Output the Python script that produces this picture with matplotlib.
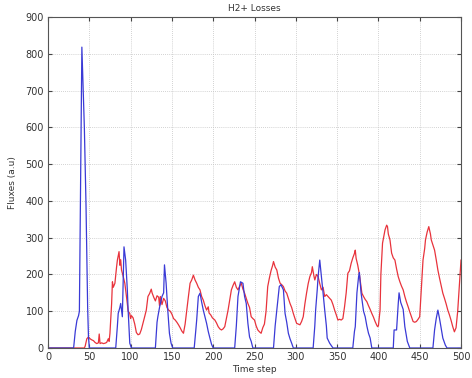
import matplotlib
matplotlib.use("Agg")
import matplotlib.pyplot as plt

# Red series (time step, flux)
red_t = [0, 44, 45, 47, 49, 51, 53, 55, 57, 59, 61, 62, 63, 65, 67, 69, 71, 73, 74, 75, 77, 78, 79,
         81, 83, 84, 86, 87, 88, 89, 91, 93, 95, 96, 97, 99, 100, 101, 103, 105, 107, 109, 111, 113,
         115, 117, 119, 121, 123, 125, 126, 128, 130, 132, 134, 135, 136, 138, 140, 142, 144, 146,
         148, 150, 152, 154, 156, 158, 160, 162, 164, 166, 168, 170, 172, 174, 176, 178, 180, 182,
         184, 186, 188, 190, 192, 194, 195, 197, 199, 202, 204, 206, 208, 210, 212, 214, 216, 218,
         220, 222, 224, 226, 228, 230, 232, 234, 236, 238, 240, 242, 244, 246, 248, 250, 252, 254,
         256, 258, 260, 262, 264, 266, 268, 270, 272, 273, 275, 277, 279, 281, 283, 285, 287, 289,
         291, 293, 295, 297, 299, 301, 303, 305, 307, 309, 311, 313, 315, 317, 319, 320, 322, 323,
         325, 327, 329, 331, 333, 335, 337, 339, 341, 343, 345, 347, 349, 351, 353, 355, 357, 359,
         361, 363, 365, 367, 369, 371, 372, 373, 375, 377, 379, 380, 382, 384, 386, 388, 390, 392,
         394, 396, 398, 399, 400, 402, 403, 405, 407, 408, 410, 411, 412, 414, 416, 418, 420, 422,
         424, 426, 428, 430, 432, 434, 436, 438, 440, 442, 444, 446, 448, 450, 452, 454, 456, 457,
         459, 461, 463, 464, 466, 468, 470, 472, 474, 476, 478, 480, 482, 484, 486, 488, 490, 492,
         494, 496, 498, 500]
red_v = [0, 0, 5, 25, 30, 25, 22, 20, 15, 12, 14, 38, 12, 14, 12, 13, 15, 25, 18, 40, 120, 180, 165,
         176, 220, 239, 262, 225, 240, 212, 195, 176, 140, 121, 100, 94, 80, 88, 82, 65, 42, 36, 38, 50,
         67, 85, 103, 140, 148, 160, 150, 138, 128, 142, 138, 115, 140, 118, 135, 128, 110, 103,
         100, 92, 80, 76, 70, 63, 55, 46, 40, 65, 103, 140, 176, 185, 198, 185, 176, 165,
         158, 140, 130, 115, 103, 112, 95, 90, 82, 76, 68, 58, 52, 49, 52, 58, 80, 103,
         130, 158, 170, 180, 165, 158, 168, 176, 160, 149, 135, 121, 110, 85, 80, 76, 60, 49,
         44, 40, 55, 65, 100, 167, 190, 210, 225, 235, 220, 212, 190, 176, 172, 167, 155, 149,
         135, 121, 110, 94, 80, 67, 65, 63, 72, 85, 120, 149, 175, 194, 205, 221, 195, 185,
         200, 194, 175, 158, 165, 140, 145, 140, 135, 130, 118, 103, 90, 76, 78, 76, 80, 112,
         150, 203, 210, 230, 245, 257, 266, 244, 225, 200, 165, 149, 140, 132, 126, 115, 105, 94,
         84, 72, 62, 58, 60, 103, 200, 285, 310, 321, 334, 330, 310, 294, 258, 245, 239, 215,
         194, 180, 168, 158, 140, 125, 112, 98, 85, 72, 70, 72, 78, 85, 160, 239, 270, 294,
         315, 330, 310, 294, 280, 266, 240, 212, 190, 170, 149, 135, 120, 103, 90, 75, 58, 44,
         55, 100, 170, 239]

# Blue series (time step, flux)
blue_t = [0, 31, 33, 35, 37, 38, 41, 44, 46, 48, 49, 50,
          82, 84, 85, 87, 88, 90, 92, 94, 96, 97, 99, 101,
          130, 132, 133, 135, 138, 140, 141, 143, 145, 147, 149, 151,
          177, 179, 180, 182, 184, 186, 188, 190, 192, 194, 196, 198, 200,
          226, 228, 230, 233, 236, 238, 240, 242, 244, 246, 248,
          273, 275, 277, 280, 282, 285, 287, 289, 291, 293, 295, 297,
          321, 323, 324, 326, 327, 329, 331, 333, 335, 337, 338, 341, 345,
          369, 371, 372, 374, 376, 377, 379, 382, 384, 386, 388, 390, 392,
          418, 419, 422, 424, 425, 427, 430, 432, 435, 438,
          466, 468, 470, 472, 474, 475, 478, 481, 483, 500]
blue_v = [0, 0, 45, 75, 88, 100, 818, 600, 390, 110, 30, 0,
          0, 60, 94, 110, 121, 85, 275, 239, 160, 103, 13, 0,
          0, 70, 85, 110, 140, 150, 226, 176, 103, 40, 13, 0,
          0, 50, 76, 140, 149, 125, 103, 85, 67, 45, 27, 10, 0,
          0, 60, 140, 180, 176, 140, 121, 67, 30, 18, 0,
          0, 60, 103, 167, 172, 158, 94, 70, 40, 25, 13, 0,
          0, 60, 103, 160, 194, 239, 194, 150, 103, 60, 27, 13, 0,
          0, 45, 58, 150, 194, 205, 150, 100, 85, 60, 40, 27, 0,
          0, 49, 49, 120, 150, 124, 105, 58, 18, 0,
          0, 49, 80, 103, 80, 67, 27, 8, 0, 0]

x_ticks = [0, 50, 100, 150, 200, 250, 300, 350, 400, 450, 500]
y_ticks = [0, 100, 200, 300, 400, 500, 600, 700, 800, 900]

fig = plt.figure(figsize=(4.72, 3.78), dpi=100)
ax = fig.add_axes([0.1017, 0.0794, 0.875, 0.8757])

ax.plot(red_t, red_v, color='#e8333c', lw=0.9)
ax.plot(blue_t, blue_v, color='#3a3ad6', lw=0.9)

ax.set_xlim(0, 500)
ax.set_ylim(0, 900)
ax.set_xticks(x_ticks)
ax.set_yticks(y_ticks)
ax.tick_params(direction='in', top=True, right=True, labelsize=7, length=3,
               colors='#444444', labelcolor='#333333', pad=3)
ax.grid(True, color='#c4c4c4', linestyle=(0, (1, 1.5)), linewidth=0.6)
for s in ax.spines.values():
    s.set_color('#555555')
    s.set_linewidth(0.8)

ax.set_title('H2+ Losses', fontsize=6.5, color='#333333', pad=4)
ax.set_xlabel('Time step', fontsize=6.5, color='#333333', labelpad=2)
ax.set_ylabel('Fluxes (a.u)', fontsize=6.5, color='#333333', labelpad=6)

fig.savefig('out.png', dpi=100)
